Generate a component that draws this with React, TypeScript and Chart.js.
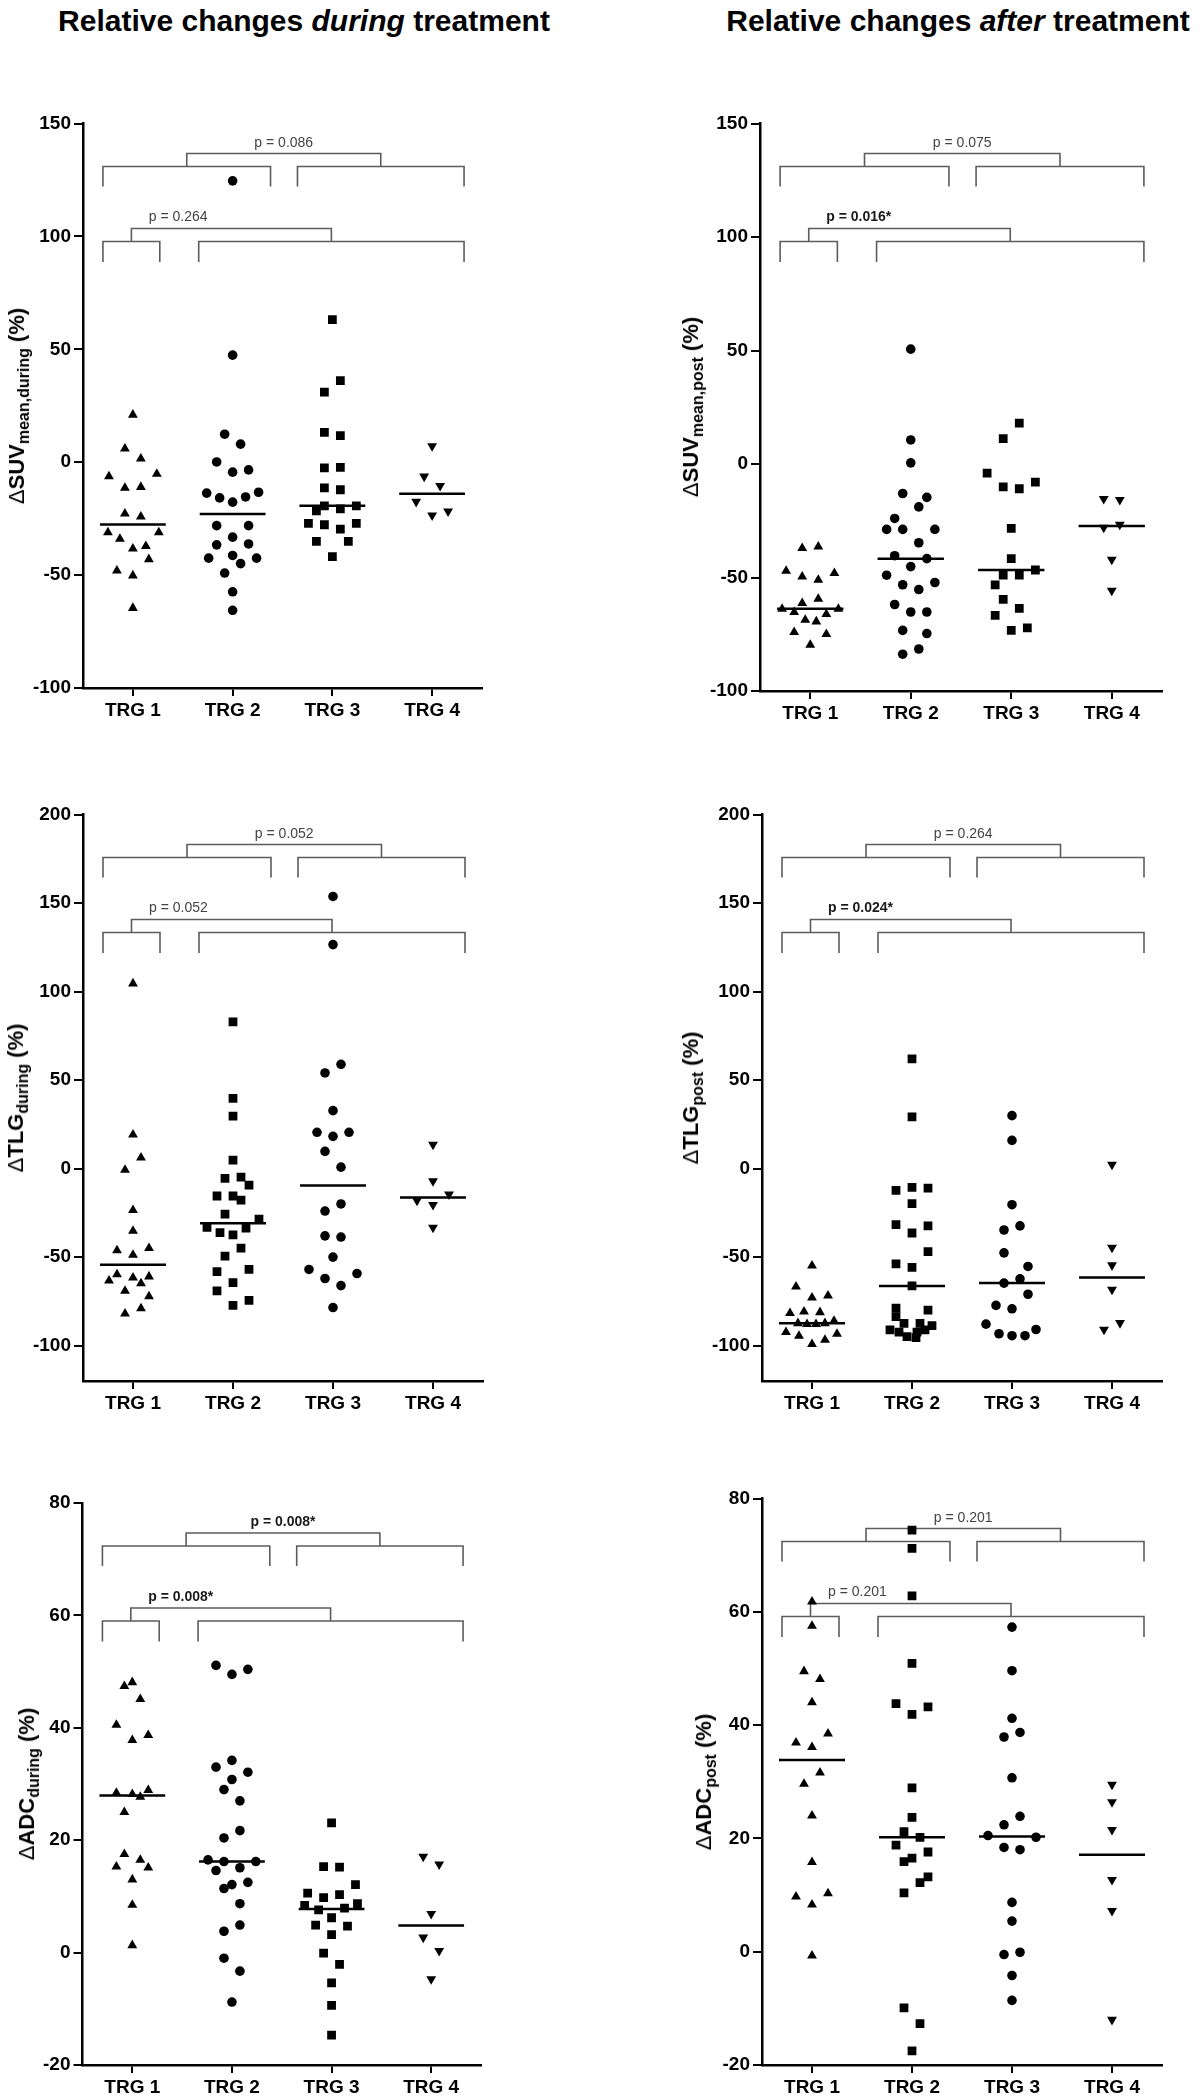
import React, { useEffect, useRef } from "react";
import { Chart, registerables } from "chart.js";

Chart.register(...registerables);

const FONT = '"Liberation Sans", Arial, Helvetica, sans-serif';

const categories = ["TRG 1", "TRG 2", "TRG 3", "TRG 4"];
const suvTicks = [-100, -50, 0, 50, 100, 150];
const tlgTicks = [-100, -50, 0, 50, 100, 150, 200];
const adcTicks = [-20, 0, 20, 40, 60, 80];

// ---- ΔSUVmean,during ----
const suvDuringTrg1 = [21, 6, 1.6, -6.3, -5.2, -11.4, -11, -22.8, -24.1, -31.1, -31.1, -34, -38.3, -37.2, -43, -48, -50.2, -64.6];
const suvDuringTrg1Jitter = [0, -0.08, 0.08, -0.24, 0.24, -0.08, 0.08, -0.08, 0.08, -0.25, 0.26, -0.13, 0, 0.13, 0.16, -0.16, 0, 0];
const suvDuringTrg2 = [124.6, 47.4, 12.4, 8, 0.1, -4.4, -3.4, -13.7, -13.3, -15.8, -15.4, -17.7, -28.1, -28.1, -33.2, -36.6, -36.2, -42.5, -41.3, -44.9, -42.5, -49.1, -57.4, -65.6];
const suvDuringTrg2Jitter = [0, 0, -0.08, 0.08, -0.16, 0, 0.16, -0.26, 0.26, -0.13, 0.13, 0, -0.16, 0.16, 0, -0.16, 0.16, -0.24, 0, 0.08, 0.24, -0.08, 0, 0];
const suvDuringTrg3 = [63.1, 36.1, 31, 13.2, 11.8, -2.3, -2.5, -11.4, -12.2, -19.3, -21.5, -20.7, -19.3, -27.1, -27.7, -29.6, -27.1, -35.1, -35.1, -41.8];
const suvDuringTrg3Jitter = [0, 0.08, -0.08, -0.08, 0.08, 0.08, -0.08, -0.08, 0.08, -0.08, -0.16, 0.08, 0.24, -0.24, -0.08, 0.08, 0.24, -0.16, 0.16, 0];
const suvDuringTrg4 = [7.1, -6.3, -10.5, -17.5, -23.5, -21.8];
const suvDuringTrg4Jitter = [0, -0.08, 0.08, -0.16, 0, 0.16];

// ---- ΔSUVmean,post ----
const suvPostTrg1 = [-36.4, -37.1, -47.1, -49.6, -51.1, -48.1, -61.3, -59.4, -63.8, -65.3, -66.2, -63.8, -68.7, -69.4, -74.1, -75, -79.7];
const suvPostTrg1Jitter = [0.08, -0.08, -0.24, -0.08, 0.08, 0.24, -0.08, 0.08, -0.28, -0.16, 0.16, 0.28, -0.05, 0.06, -0.16, 0.16, 0];
const suvPostTrg2 = [50.6, 10.6, 0.5, -13, -14.7, -18.9, -24, -28.8, -28.8, -28.8, -34.7, -40.4, -41.7, -45.2, -49, -53.2, -52.2, -55.3, -61.9, -65.2, -65.2, -73.3, -74.7, -81.5, -83.8];
const suvPostTrg2Jitter = [0, 0, 0, -0.08, 0.16, 0.08, -0.16, -0.24, -0.08, 0.24, 0.08, -0.16, 0.16, 0, -0.24, -0.08, 0.24, 0.08, -0.16, 0, 0.16, -0.08, 0.16, 0.08, -0.08];
const suvPostTrg3 = [18, 11.2, -4, -8, -10.1, -10.9, -28.4, -41.7, -46.7, -49, -49, -53.2, -59.6, -63.6, -66.7, -73.3, -72.2];
const suvPostTrg3Jitter = [0.08, -0.08, -0.24, 0.24, -0.08, 0.08, 0, 0, 0.24, -0.08, 0.08, -0.16, -0.08, 0.08, -0.16, 0, 0.16];
const suvPostTrg4 = [-15.3, -15.8, -28, -26.7, -42.1, -55.8];
const suvPostTrg4Jitter = [-0.08, 0.08, -0.08, 0.08, 0, 0];

// ---- ΔTLGduring ----
const tlgDuringTrg1 = [104.5, 19.1, 6.2, -0.8, -23.5, -35.2, -46.2, -45, -48.8, -59.8, -61, -61.6, -63.3, -64.9, -69.1, -72.2, -79, -82];
const tlgDuringTrg1Jitter = [0, 0, 0.08, -0.08, 0, 0, -0.16, 0.16, 0, -0.16, 0.16, 0, -0.24, 0.08, -0.08, 0.16, 0.08, -0.08];
const tlgDuringTrg2 = [82.8, 39.7, 29.6, 4.8, -4.9, -5.5, -9.3, -15.5, -15.5, -17.8, -25.7, -28.6, -33.2, -33.7, -36.2, -37.5, -45, -49.4, -56.9, -58.2, -64.4, -69.1, -74.5, -77.3];
const tlgDuringTrg2Jitter = [0, 0, 0, 0, 0.08, -0.08, 0.16, -0.16, 0, 0.08, -0.08, 0.26, -0.26, 0.13, -0.13, 0, 0.08, -0.08, 0.16, -0.16, 0, -0.16, 0.16, 0];
const tlgDuringTrg3 = [153.7, 126.5, 58.9, 54, 32.7, 20.5, 20.5, 18.2, 9.7, 0.8, -20, -24, -38, -38.7, -50, -57, -59.3, -62.1, -66.1, -78.5];
const tlgDuringTrg3Jitter = [0, 0, 0.08, -0.08, 0, -0.16, 0.16, 0, -0.08, 0.08, 0.08, -0.08, -0.08, 0.08, 0, -0.24, 0.24, -0.08, 0.08, 0];
const tlgDuringTrg4 = [13.5, -7.1, -14.6, -18.1, -20.5, -33.3];
const tlgDuringTrg4Jitter = [0, 0, 0.16, -0.16, 0, 0];

// ---- ΔTLGpost ----
const tlgPostTrg1 = [-54.8, -66.7, -72.9, -71.8, -81.7, -80.8, -81.2, -87.4, -87.9, -87.9, -87.4, -86.1, -92.4, -94.5, -93.4, -96.8, -99.2];
const tlgPostTrg1Jitter = [0, -0.16, 0, 0.16, -0.22, -0.08, 0.08, -0.14, -0.05, 0.04, 0.13, 0.22, -0.26, -0.13, 0.25, 0.13, 0];
const tlgPostTrg2 = [61.9, 29.2, -10.6, -11.1, -12.3, -19.8, -31.7, -32.4, -36.4, -46.9, -53.9, -55.8, -66.3, -78.9, -80, -83.6, -87.4, -87.4, -88.7, -91.1, -92.4, -94.9, -92.4, -91.1, -95.5];
const tlgPostTrg2Jitter = [0, 0, 0, 0.16, -0.16, 0, -0.16, 0.16, 0, 0.16, -0.16, 0, 0, -0.16, 0.16, -0.16, -0.08, 0.08, 0.2, -0.22, -0.13, -0.05, 0.05, 0.13, 0.04];
const tlgPostTrg3 = [29.9, 15.9, -20.4, -34.7, -32.4, -47.6, -55.3, -64.7, -62.3, -71, -77.3, -79.2, -87.9, -90.9, -93.3, -94.4, -94.4];
const tlgPostTrg3Jitter = [0, 0, 0, -0.08, 0.08, -0.08, 0.16, -0.08, 0.08, 0.16, -0.16, 0, -0.26, 0.24, -0.13, 0, 0.13];
const tlgPostTrg4 = [2.2, -44.6, -54.6, -68.4, -87.2, -90.9];
const tlgPostTrg4Jitter = [0, 0, 0, 0, 0.08, -0.08];

// ---- ΔADCduring ----
const adcDuringTrg1 = [48.1, 47.4, 45.1, 40.5, 37.8, 38.7, 28.4, 28.2, 27.7, 28.9, 25, 17.5, 16.5, 15.3, 15.1, 13, 8.5, 1.3];
const adcDuringTrg1Jitter = [0, -0.08, 0.08, -0.16, 0, 0.16, -0.16, 0, 0.08, 0.16, -0.08, -0.08, 0.08, -0.16, 0.16, 0, 0, 0];
const adcDuringTrg2 = [51.1, 49.5, 50.4, 34.2, 33, 32.1, 30.8, 29, 27, 21.7, 20.4, 16.5, 16.2, 15.1, 16.2, 14.6, 12.1, 11.4, 12.5, 8.7, 4.9, 3.8, -1, -3.3, -8.8];
const adcDuringTrg2Jitter = [-0.16, 0, 0.16, 0, -0.16, 0.16, 0, -0.08, 0.08, 0.08, -0.08, -0.24, -0.08, 0.08, 0.24, -0.16, 0, -0.08, 0.16, 0.08, 0.08, -0.08, -0.08, 0.08, 0];
const adcDuringTrg3 = [23.1, 15.3, 15.2, 12.1, 10.6, 9.8, 10.3, 8.4, 7.6, 7.9, 8.7, 6.2, 4.9, 4.7, 3.2, -0.1, -2.1, -5.4, -9.4, -14.7];
const adcDuringTrg3Jitter = [0, -0.08, 0.08, 0.24, -0.24, -0.08, 0.08, -0.27, -0.13, 0.13, 0.26, 0, -0.16, 0.16, 0, -0.08, 0.08, 0, 0, 0];
const adcDuringTrg4 = [17.1, 15.7, 6.9, 2.7, 0.3, -4.7];
const adcDuringTrg4Jitter = [-0.08, 0.08, 0, -0.08, 0.08, 0];

// ---- ΔADCpost ----
const adcPostTrg1 = [61.8, 57.5, 49.5, 48.1, 44, 38.5, 36.9, 36.1, 31.6, 29.6, 24, 15.8, 9.7, 10.3, 8.3, -0.7];
const adcPostTrg1Jitter = [0, 0, -0.08, 0.08, 0, 0.16, -0.16, 0, 0.08, -0.08, 0, 0, -0.16, 0.16, 0, 0];
const adcPostTrg2 = [74.4, 71.2, 62.8, 50.9, 43.8, 43.2, 41.9, 28.9, 23.7, 21.2, 20.2, 18.8, 17.6, 16.5, 15.9, 13.2, 12.2, 10.4, -9.9, -12.7, -17.5];
const adcPostTrg2Jitter = [0, 0, 0, 0, -0.16, 0.16, 0, 0, 0, -0.08, 0.08, -0.16, 0.16, 0, -0.08, 0.16, 0.08, -0.08, -0.08, 0.08, 0];
const adcPostTrg3 = [57.3, 49.6, 41.2, 38.7, 37.9, 30.7, 23.9, 22.4, 20.5, 20.2, 18.4, 18, 8.7, 5.4, -0.5, -0.1, -4.2, -8.6];
const adcPostTrg3Jitter = [0, 0, 0, 0.08, -0.08, 0, 0.08, -0.08, -0.24, 0.24, -0.08, 0.08, 0, 0, -0.08, 0.08, 0, 0];
const adcPostTrg4 = [29.5, 26.4, 21.5, 12.7, 7.2, -12];
const adcPostTrg4Jitter = [0, 0, 0, 0, 0, 0];

type Shape = "triangle" | "circle" | "rect" | "invTriangle";

interface Group { values: number[]; jitter: number[]; shape: Shape }
interface PanelSpec {
  key: string;
  left: number; top: number; width: number; height: number;
  area: { left: number; right: number; top: number; bottom: number };
  yMin: number; yMax: number; yTicks: number[];
  groups: Group[];
  upperP: string; upperBold: boolean;
  lowerP: string; lowerBold: boolean;
  labelMain: string; labelSub: string; labelX: number;
}

const COL_L = 0;
const COL_R = 601;
const COL_W = 601;
const ROW_TOP = [40, 740, 1420];
const ROW_H = [700, 680, 677];

const g = (values: number[], jitter: number[], shape: Shape): Group => ({ values, jitter, shape });

const PANELS: PanelSpec[] = [
  {
    key: "p1", left: COL_L, top: ROW_TOP[0], width: COL_W, height: ROW_H[0],
    area: { left: 83, right: 482, top: 123.5, bottom: 688 },
    yMin: -100, yMax: 150, yTicks: suvTicks,
    groups: [
      g(suvDuringTrg1, suvDuringTrg1Jitter, "triangle"),
      g(suvDuringTrg2, suvDuringTrg2Jitter, "circle"),
      g(suvDuringTrg3, suvDuringTrg3Jitter, "rect"),
      g(suvDuringTrg4, suvDuringTrg4Jitter, "invTriangle"),
    ],
    upperP: "p = 0.086", upperBold: false, lowerP: "p = 0.264", lowerBold: false,
    labelMain: "SUV", labelSub: "mean,during", labelX: 17,
  },
  {
    key: "p2", left: COL_R, top: ROW_TOP[0], width: COL_W, height: ROW_H[0],
    area: { left: 760, right: 1162, top: 123.5, bottom: 691 },
    yMin: -100, yMax: 150, yTicks: suvTicks,
    groups: [
      g(suvPostTrg1, suvPostTrg1Jitter, "triangle"),
      g(suvPostTrg2, suvPostTrg2Jitter, "circle"),
      g(suvPostTrg3, suvPostTrg3Jitter, "rect"),
      g(suvPostTrg4, suvPostTrg4Jitter, "invTriangle"),
    ],
    upperP: "p = 0.075", upperBold: false, lowerP: "p = 0.016*", lowerBold: true,
    labelMain: "SUV", labelSub: "mean,post", labelX: 691,
  },
  {
    key: "p3", left: COL_L, top: ROW_TOP[1], width: COL_W, height: ROW_H[1],
    area: { left: 83, right: 483, top: 814.5, bottom: 1381 },
    yMin: -120, yMax: 200, yTicks: tlgTicks,
    groups: [
      g(tlgDuringTrg1, tlgDuringTrg1Jitter, "triangle"),
      g(tlgDuringTrg2, tlgDuringTrg2Jitter, "rect"),
      g(tlgDuringTrg3, tlgDuringTrg3Jitter, "circle"),
      g(tlgDuringTrg4, tlgDuringTrg4Jitter, "invTriangle"),
    ],
    upperP: "p = 0.052", upperBold: false, lowerP: "p = 0.052", lowerBold: false,
    labelMain: "TLG", labelSub: "during", labelX: 16,
  },
  {
    key: "p4", left: COL_R, top: ROW_TOP[1], width: COL_W, height: ROW_H[1],
    area: { left: 762, right: 1162, top: 814.5, bottom: 1381 },
    yMin: -120, yMax: 200, yTicks: tlgTicks,
    groups: [
      g(tlgPostTrg1, tlgPostTrg1Jitter, "triangle"),
      g(tlgPostTrg2, tlgPostTrg2Jitter, "rect"),
      g(tlgPostTrg3, tlgPostTrg3Jitter, "circle"),
      g(tlgPostTrg4, tlgPostTrg4Jitter, "invTriangle"),
    ],
    upperP: "p = 0.264", upperBold: false, lowerP: "p = 0.024*", lowerBold: true,
    labelMain: "TLG", labelSub: "post", labelX: 691,
  },
  {
    key: "p5", left: COL_L, top: ROW_TOP[2], width: COL_W, height: ROW_H[2],
    area: { left: 82.5, right: 481, top: 1503, bottom: 2065 },
    yMin: -20, yMax: 80, yTicks: adcTicks,
    groups: [
      g(adcDuringTrg1, adcDuringTrg1Jitter, "triangle"),
      g(adcDuringTrg2, adcDuringTrg2Jitter, "circle"),
      g(adcDuringTrg3, adcDuringTrg3Jitter, "rect"),
      g(adcDuringTrg4, adcDuringTrg4Jitter, "invTriangle"),
    ],
    upperP: "p = 0.008*", upperBold: true, lowerP: "p = 0.008*", lowerBold: true,
    labelMain: "ADC", labelSub: "during", labelX: 27,
  },
  {
    key: "p6", left: COL_R, top: ROW_TOP[2], width: COL_W, height: ROW_H[2],
    area: { left: 762, right: 1162, top: 1498.5, bottom: 2065 },
    yMin: -20, yMax: 80, yTicks: adcTicks,
    groups: [
      g(adcPostTrg1, adcPostTrg1Jitter, "triangle"),
      g(adcPostTrg2, adcPostTrg2Jitter, "rect"),
      g(adcPostTrg3, adcPostTrg3Jitter, "circle"),
      g(adcPostTrg4, adcPostTrg4Jitter, "invTriangle"),
    ],
    upperP: "p = 0.201", upperBold: false, lowerP: "p = 0.201", lowerBold: false,
    labelMain: "ADC", labelSub: "post", labelX: 704,
  },
];

// Bracket layout: x in category units, y as pixel offsets below the top of the plot area
const UPPER_TIER = { left: [-0.3, 1.38], right: [1.65, 3.32], h: 43, leg: 63, conn: 30, text: 19.5 };
const LOWER_TIER = { left: [-0.3, 0.27], right: [0.66, 3.32], h: 118, leg: 138.5, conn: 105, text: 94, textX: 0.16 };

function median(a: number[]) {
  const s = [...a].sort((x, y) => x - y);
  const n = s.length;
  return n % 2 ? s[(n - 1) / 2] : (s[n / 2 - 1] + s[n / 2]) / 2;
}

function radiusFor(shape: Shape) {
  if (shape === "circle") return 4.8;
  if (shape === "rect") return 6.2;
  return 5.7;
}

function Panel({ spec }: { spec: PanelSpec }) {
  const ref = useRef<HTMLCanvasElement | null>(null);
  useEffect(() => {
    const canvas = ref.current;
    if (!canvas) return;
    const a = spec.area;
    const datasets: any[] = [];
    spec.groups.forEach((grp, gi) => {
      const m = median(grp.values);
      datasets.push({
        data: [{ x: gi - 0.33, y: m }, { x: gi + 0.33, y: m }],
        showLine: true,
        borderColor: "#000",
        borderWidth: 2.5,
        pointRadius: 0,
      });
      datasets.push({
        data: grp.values.map((v, i) => ({ x: gi + grp.jitter[i], y: v })),
        pointStyle: grp.shape === "invTriangle" ? "triangle" : grp.shape,
        pointRotation: grp.shape === "invTriangle" ? 180 : 0,
        pointRadius: radiusFor(grp.shape),
        backgroundColor: "#000",
        borderColor: "#000",
        borderWidth: 0,
        showLine: false,
      });
    });

    const bracketPlugin = {
      id: "brackets",
      beforeDatasetsDraw(chart: any) {
        const { ctx, chartArea, scales } = chart;
        const xs = scales.x;
        const top = chartArea.top;
        const px = (v: number) => xs.getPixelForValue(v);
        const drawB = (x1: number, x2: number, yH: number, yLeg: number) => {
          ctx.beginPath();
          ctx.moveTo(px(x1), top + yLeg);
          ctx.lineTo(px(x1), top + yH);
          ctx.lineTo(px(x2), top + yH);
          ctx.lineTo(px(x2), top + yLeg);
          ctx.stroke();
        };
        ctx.save();
        ctx.strokeStyle = "#5c5c5c";
        ctx.lineWidth = 1.6;
        ctx.lineJoin = "miter";
        const tiers = [
          { t: UPPER_TIER, text: spec.upperP, bold: spec.upperBold, center: true },
          { t: LOWER_TIER, text: spec.lowerP, bold: spec.lowerBold, center: false },
        ];
        tiers.forEach(({ t, text, bold, center }) => {
          drawB(t.left[0], t.left[1], t.h, t.leg);
          drawB(t.right[0], t.right[1], t.h, t.leg);
          const m1 = (t.left[0] + t.left[1]) / 2;
          const m2 = (t.right[0] + t.right[1]) / 2;
          drawB(m1, m2, t.conn, t.h);
          ctx.font = `${bold ? "bold " : ""}14px ${FONT}`;
          ctx.fillStyle = bold ? "#1a1a1a" : "#444";
          ctx.textBaseline = "middle";
          if (center) {
            ctx.textAlign = "center";
            ctx.fillText(text, px((m1 + m2) / 2), top + t.text);
          } else {
            ctx.textAlign = "left";
            ctx.fillText(text, px((t as any).textX), top + t.text);
          }
        });
        ctx.restore();
      },
    };

    const tickFont = { family: FONT, size: 19, weight: "bold" as const };
    const chart = new Chart(canvas, {
      type: "scatter",
      data: { datasets },
      options: {
        animation: false,
        responsive: false,
        devicePixelRatio: 1,
        events: [],
        layout: {
          autoPadding: false,
          padding: {
            top: a.top - spec.top,
            right: spec.left + spec.width - a.right,
            left: 0,
            bottom: 0,
          },
        },
        plugins: { legend: { display: false }, tooltip: { enabled: false } },
        scales: {
          x: {
            type: "linear",
            min: -0.5,
            max: 3.5,
            bounds: "data",
            afterBuildTicks: (s: any) => {
              s.ticks = categories.map((_, i) => ({ value: i }));
            },
            afterFit: (s: any) => {
              s.height = spec.top + spec.height - a.bottom;
            },
            ticks: {
              autoSkip: false,
              maxRotation: 0,
              minRotation: 0,
              padding: 3,
              color: "#000",
              font: tickFont,
              callback: (v: any) => categories[Math.round(Number(v))] ?? "",
            },
            grid: {
              display: true,
              drawOnChartArea: false,
              drawTicks: true,
              tickLength: 8,
              tickWidth: 2,
              tickColor: "#000",
              lineWidth: 2,
              color: "#000",
            },
            border: { display: true, color: "#000", width: 2.5 },
          },
          y: {
            type: "linear",
            min: spec.yMin,
            max: spec.yMax,
            bounds: "data",
            afterBuildTicks: (s: any) => {
              s.ticks = spec.yTicks.map((v) => ({ value: v }));
            },
            afterFit: (s: any) => {
              s.width = a.left - spec.left;
            },
            ticks: {
              padding: 3,
              color: "#000",
              font: tickFont,
              callback: (v: any) => String(v),
            },
            grid: {
              display: true,
              drawOnChartArea: false,
              drawTicks: true,
              tickLength: 9,
              tickWidth: 2,
              tickColor: "#000",
              lineWidth: 2,
              color: "#000",
            },
            border: { display: true, color: "#000", width: 2.5 },
          },
        },
      } as any,
      plugins: [bracketPlugin],
    });
    return () => chart.destroy();
  }, [spec]);

  const a = spec.area;
  const cy = (a.top + a.bottom) / 2;
  return (
    <>
      <canvas
        ref={ref}
        width={spec.width}
        height={spec.height}
        style={{ position: "absolute", left: spec.left, top: spec.top, width: spec.width, height: spec.height }}
      />
      <div
        style={{
          position: "absolute",
          left: spec.labelX,
          top: cy,
          transform: "translate(-50%, -50%) rotate(-90deg)",
          whiteSpace: "nowrap",
          fontFamily: FONT,
          fontWeight: "bold",
          fontSize: 22,
          lineHeight: "26px",
          color: "#000",
        }}
      >
        <span style={{ fontWeight: "normal" }}>Δ</span>
        {spec.labelMain}
        <span style={{ fontSize: 16, verticalAlign: "-0.3em", lineHeight: 0 }}>{spec.labelSub}</span>
        {" (%)"}
      </div>
    </>
  );
}

export default function App() {
  const titleStyle: React.CSSProperties = {
    position: "absolute",
    top: 6,
    transform: "translateX(-50%)",
    whiteSpace: "nowrap",
    fontFamily: FONT,
    fontWeight: "bold",
    fontSize: 30,
    lineHeight: "30px",
    color: "#000",
  };
  return (
    <div style={{ position: "absolute", left: 0, top: 0, width: 1202, height: 2097, background: "#fff", overflow: "hidden" }}>
      <div style={{ ...titleStyle, left: 304 }}>
        Relative changes <i>during</i> treatment
      </div>
      <div style={{ ...titleStyle, left: 958 }}>
        Relative changes <i>after</i> treatment
      </div>
      {PANELS.map((p) => (
        <Panel key={p.key} spec={p} />
      ))}
    </div>
  );
}
